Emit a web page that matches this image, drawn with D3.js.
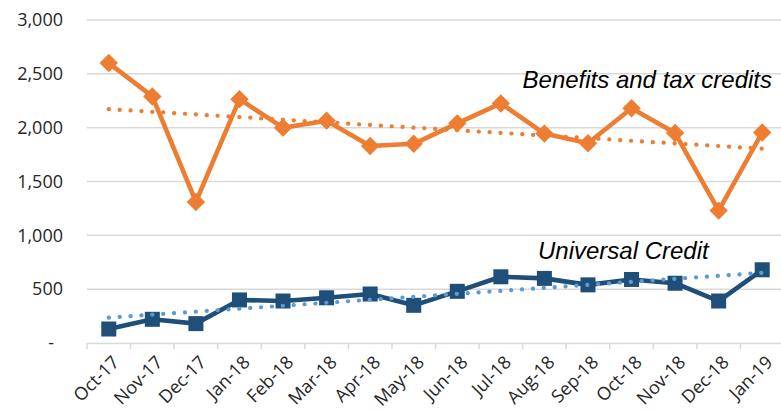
<!DOCTYPE html>
<html>
<head>
<meta charset="utf-8">
<script src="https://cdn.jsdelivr.net/npm/d3@7"></script>
<style>
  html, body { margin: 0; padding: 0; background: #fff; }
  svg { display: block; }
  .axis text { font-family: "Open Sans", sans-serif; font-size: 18px; fill: #262626; }
  .note { font-family: "Liberation Sans", Arial, sans-serif; font-size: 24px; font-style: italic; fill: #000; }
</style>
</head>
<body>
<div id="chart"></div>
<script>
// Months on the x axis
const months = ["Oct-17", "Nov-17", "Dec-17", "Jan-18", "Feb-18", "Mar-18", "Apr-18", "May-18",
  "Jun-18", "Jul-18", "Aug-18", "Sep-18", "Oct-18", "Nov-18", "Dec-18", "Jan-19"];
// Benefits and tax credits
const benefits = [2600, 2290, 1310, 2265, 2000, 2065, 1830, 1850, 2040, 2225, 1945, 1855, 2180, 1950, 1230, 1955];
// Universal Credit
const universalCredit = [130, 220, 180, 400, 390, 420, 455, 350, 480, 615, 600, 540, 590, 555, 390, 680];
// Trend line end values (first and last month)
const benefitsTrend = [2172, 1805];
const ucTrend = [235, 652];
// Y axis ticks
const yTicks = [0, 500, 1000, 1500, 2000, 2500, 3000];

const width = 781;
const height = 413;
const margin = { top: 20, right: -3, bottom: 70, left: 87 };

const svg = d3.select("#chart").append("svg")
  .attr("width", width)
  .attr("height", height);

// Scales
const x = d3.scaleBand()
  .domain(months)
  .range([margin.left, width - margin.right])
  .padding(0);

const y = d3.scaleLinear()
  .domain([0, 3000])
  .range([height - margin.bottom, margin.top]);

const cx = d => x(d) + x.bandwidth() / 2;

// Horizontal gridlines
svg.append("g")
  .selectAll("line")
  .data(yTicks.filter(t => t > 0))
  .enter()
  .append("line")
  .attr("x1", margin.left)
  .attr("x2", width - margin.right)
  .attr("y1", d => y(d))
  .attr("y2", d => y(d))
  .attr("stroke", "#d9d9d9")
  .attr("stroke-width", 1.5);

// Y axis labels, zero shown as a dash
const yAxis = svg.append("g")
  .attr("class", "axis")
  .attr("transform", `translate(${margin.left},0)`)
  .call(d3.axisLeft(y).tickValues(yTicks).tickSize(0).tickPadding(24)
    .tickFormat(d => d === 0 ? "-" : d3.format(",")(d)));
yAxis.select(".domain").remove();
yAxis.selectAll("text").filter(d => d === 0).attr("dx", -9);

// X axis with ticks between categories
const xAxis = svg.append("g")
  .attr("class", "axis")
  .attr("transform", `translate(0,${y(0)})`)
  .call(d3.axisBottom(x).tickSize(0).tickPadding(0));
xAxis.select(".domain")
  .attr("stroke", "#d9d9d9")
  .attr("stroke-width", 1.5);
xAxis.selectAll(".tick text")
  .attr("text-anchor", "end")
  .attr("dy", "0.35em")
  .attr("transform", "translate(7,16) rotate(-45)");

// Tick marks at category boundaries
const boundaries = months.map(m => x(m)).concat([x(months[months.length - 1]) + x.bandwidth()]);
svg.append("g")
  .selectAll("line")
  .data(boundaries)
  .enter()
  .append("line")
  .attr("x1", d => d)
  .attr("x2", d => d)
  .attr("y1", y(0))
  .attr("y2", y(0) + 6)
  .attr("stroke", "#d9d9d9")
  .attr("stroke-width", 1.5);

const line = d3.line()
  .x((d, i) => cx(months[i]))
  .y(d => y(d));

// Benefits and tax credits line
svg.append("path")
  .datum(benefits)
  .attr("fill", "none")
  .attr("stroke", "#ed7d31")
  .attr("stroke-width", 4.6)
  .attr("stroke-linejoin", "round")
  .attr("d", line);

svg.append("g")
  .selectAll("rect")
  .data(benefits)
  .enter()
  .append("rect")
  .attr("x", -6.5)
  .attr("y", -6.5)
  .attr("width", 13)
  .attr("height", 13)
  .attr("fill", "#ed7d31")
  .attr("transform", (d, i) => `translate(${cx(months[i])},${y(d)}) rotate(45)`);

// Universal Credit line
svg.append("path")
  .datum(universalCredit)
  .attr("fill", "none")
  .attr("stroke", "#1f4e79")
  .attr("stroke-width", 4.6)
  .attr("stroke-linejoin", "round")
  .attr("d", line);

svg.append("g")
  .selectAll("rect")
  .data(universalCredit)
  .enter()
  .append("rect")
  .attr("x", (d, i) => cx(months[i]) - 7.5)
  .attr("y", d => y(d) - 7.5)
  .attr("width", 15)
  .attr("height", 15)
  .attr("fill", "#1f4e79");

// Dotted trend lines from first to last month
const trendLine = d3.line()
  .x((d, i) => cx(months[i === 0 ? 0 : months.length - 1]))
  .y(d => y(d));

svg.append("path")
  .datum(benefitsTrend)
  .attr("fill", "none")
  .attr("stroke", "#ed7d31")
  .attr("stroke-width", 4.2)
  .attr("stroke-linecap", "round")
  .attr("stroke-dasharray", "0.1 10.8")
  .attr("d", trendLine);

svg.append("path")
  .datum(ucTrend)
  .attr("fill", "none")
  .attr("stroke", "#5b9bd5")
  .attr("stroke-width", 4.2)
  .attr("stroke-linecap", "round")
  .attr("stroke-dasharray", "0.1 10.8")
  .attr("d", trendLine);

// Series notes
svg.append("text")
  .attr("class", "note")
  .attr("x", 772)
  .attr("y", 88)
  .attr("text-anchor", "end")
  .text("Benefits and tax credits");

svg.append("text")
  .attr("class", "note")
  .attr("x", 538)
  .attr("y", 259)
  .text("Universal Credit");
</script>
</body>
</html>
